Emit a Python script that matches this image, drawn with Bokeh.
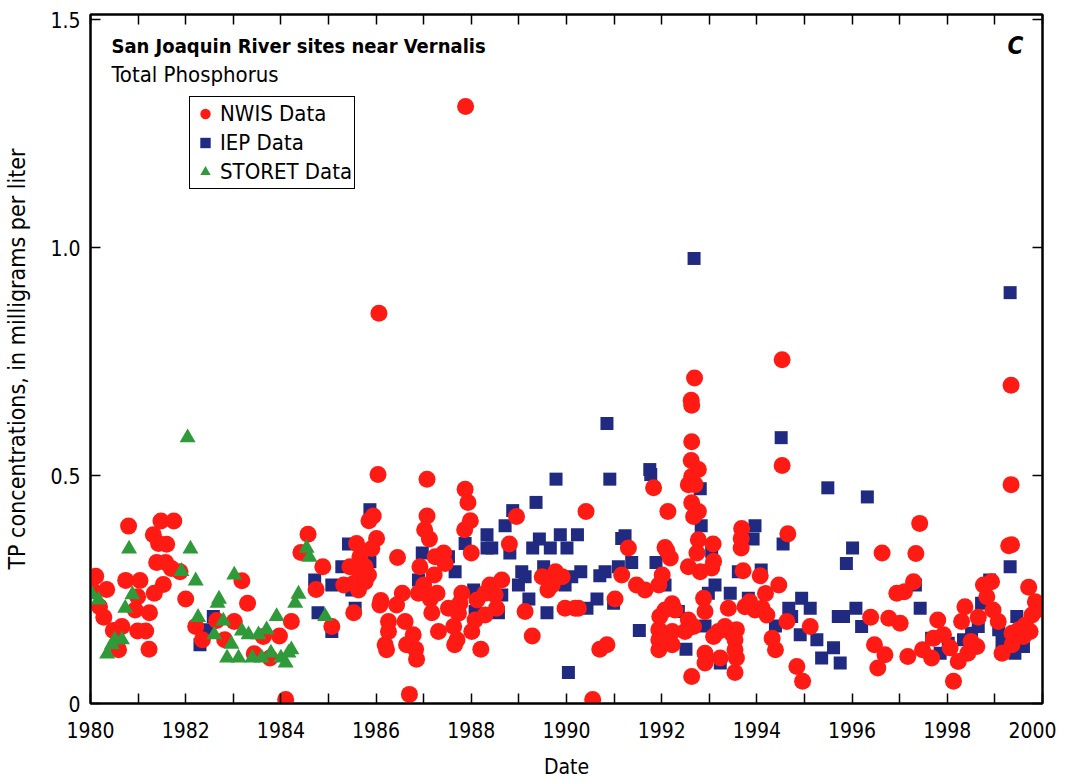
from bokeh.plotting import figure
from bokeh.models import FixedTicker, LinearAxis, Label, Range1d, NumeralTickFormatter, ColumnDataSource
from bokeh.embed import file_html
from bokeh.resources import INLINE

FONT = "DejaVu Sans Condensed, Liberation Sans, sans-serif"

# ---- NWIS data (red circles): decimal year, TP mg/L
nwis_year = [
    1980.80, 1980.11, 1980.03, 1980.34, 1980.19, 1980.28, 1980.48, 1980.66, 1980.59, 1980.74,
    1981.04, 1980.99, 1980.94, 1981.24, 1980.99, 1981.16, 1981.23, 1981.48, 1981.75, 1981.32,
    1981.43, 1981.60, 1981.39, 1981.58, 1981.70, 1981.88, 1981.53, 1981.34, 1982.00, 1982.21,
    1982.35, 1982.65, 1982.82, 1983.02, 1983.18, 1983.30, 1983.44, 1983.63, 1983.77, 1983.97,
    1984.22, 1984.10, 1984.57, 1984.42, 1984.88, 1984.74,
    1987.88, 1986.06, 1986.04, 1987.07, 1987.87, 1987.93, 1987.98, 1987.86, 1987.07, 1987.02,
    1987.12, 1988.95, 1990.41, 1988.80, 1988.00, 1985.94, 1985.85, 1986.01, 1985.91, 1985.59,
    1985.66, 1985.45, 1985.77, 1985.84, 1985.66, 1985.32, 1985.53, 1985.63, 1985.77, 1985.53,
    1985.07, 1986.45, 1986.10, 1986.08, 1986.55, 1986.43, 1986.26, 1986.26, 1986.61, 1986.78,
    1986.19, 1986.22, 1986.64, 1986.83, 1986.85, 1986.70, 1986.92, 1987.22, 1987.00, 1986.89,
    1987.28, 1987.14, 1987.17, 1987.31, 1987.24, 1987.42, 1987.45, 1987.52, 1987.63, 1987.70,
    1987.65, 1987.73, 1987.76, 1987.80, 1988.01, 1988.08, 1988.12, 1988.20, 1988.29, 1988.39,
    1988.50, 1988.64, 1988.29, 1988.53, 1989.13, 1989.28, 1989.49, 1989.77, 1989.91, 1989.61,
    1989.70, 1989.97, 1990.18, 1990.25, 1991.02, 1991.16, 1991.30, 1990.70, 1990.85, 1990.55,
    1994.53, 1992.69, 1992.62, 1992.63, 1992.63, 1994.53, 1992.62, 1992.77, 1992.63, 1992.56,
    1992.70, 1991.83, 1992.63, 1992.77, 1992.67, 1992.13, 1992.07, 1992.11, 1992.18, 1992.77,
    1993.08, 1992.74, 1993.68, 1993.67, 1993.67, 1994.65, 1993.09, 1993.05, 1992.56, 1992.81,
    1993.71, 1994.07, 1994.46, 1991.47, 1991.65, 1991.94, 1992.01, 1992.22, 1992.07, 1991.96,
    1992.28, 1991.94, 1991.94, 1991.94, 1992.22, 1992.22, 1992.56, 1992.67, 1992.49, 1992.88,
    1992.91, 1993.09, 1993.19, 1993.40, 1993.33, 1993.47, 1993.57, 1993.54, 1993.54, 1993.57,
    1993.54, 1992.91, 1992.91, 1993.23, 1992.63, 1993.75, 1993.85, 1993.96, 1994.11, 1994.18,
    1994.21, 1994.32, 1994.39, 1994.63, 1994.84, 1994.96, 1995.12,
    1999.34, 1999.34, 1999.29, 1999.35, 1997.42, 1996.63, 1997.34, 1997.29, 1996.94, 1997.10,
    1996.39, 1996.77, 1997.01, 1996.47, 1996.69, 1996.54, 1997.17, 1997.48, 1997.67, 1997.80,
    1997.71, 1997.92, 1998.06, 1998.23, 1998.13, 1998.37, 1998.30, 1998.50, 1998.43, 1998.62,
    1998.65, 1998.76, 1998.93, 1998.83, 1998.96, 1999.07, 1999.15, 1999.36, 1999.36, 1999.50,
    1999.64, 1999.74, 1999.60, 1999.71, 1999.85, 1999.88, 1999.78,
]
nwis_tp = [
    0.389, 0.279, 0.250, 0.250, 0.212, 0.189, 0.160, 0.169, 0.118, 0.270,
    0.270, 0.234, 0.205, 0.199, 0.159, 0.159, 0.119, 0.400, 0.400, 0.370,
    0.351, 0.349, 0.309, 0.309, 0.296, 0.289, 0.261, 0.242, 0.229, 0.169,
    0.140, 0.182, 0.140, 0.180, 0.269, 0.220, 0.109, 0.147, 0.100, 0.148,
    0.180, 0.009, 0.371, 0.331, 0.300, 0.250,
    1.309, 0.856, 0.502, 0.492, 0.470, 0.441, 0.401, 0.381, 0.411, 0.381,
    0.361, 0.410, 0.421, 0.350, 0.330, 0.411, 0.401, 0.362, 0.340, 0.351,
    0.322, 0.300, 0.300, 0.282, 0.285, 0.260, 0.263, 0.249, 0.267, 0.199,
    0.169, 0.320, 0.226, 0.216, 0.242, 0.216, 0.180, 0.158, 0.180, 0.151,
    0.129, 0.118, 0.129, 0.119, 0.097, 0.020, 0.300, 0.282, 0.260, 0.242,
    0.242, 0.229, 0.199, 0.158, 0.322, 0.330, 0.307, 0.209, 0.169, 0.140,
    0.129, 0.198, 0.220, 0.242, 0.158, 0.183, 0.227, 0.119, 0.242, 0.260,
    0.238, 0.271, 0.194, 0.209, 0.202, 0.148, 0.278, 0.289, 0.278, 0.249,
    0.260, 0.209, 0.209, 0.209, 0.229, 0.282, 0.341, 0.119, 0.129, 0.009,
    0.754, 0.714, 0.665, 0.654, 0.574, 0.522, 0.533, 0.513, 0.498, 0.480,
    0.480, 0.473, 0.440, 0.421, 0.410, 0.421, 0.342, 0.335, 0.319, 0.359,
    0.350, 0.330, 0.384, 0.362, 0.341, 0.372, 0.312, 0.297, 0.300, 0.289,
    0.291, 0.280, 0.260, 0.260, 0.249, 0.260, 0.282, 0.219, 0.205, 0.191,
    0.205, 0.162, 0.140, 0.118, 0.158, 0.129, 0.183, 0.169, 0.158, 0.231,
    0.202, 0.147, 0.158, 0.209, 0.169, 0.154, 0.162, 0.140, 0.118, 0.100,
    0.068, 0.110, 0.089, 0.100, 0.059, 0.212, 0.223, 0.205, 0.209, 0.241,
    0.194, 0.143, 0.118, 0.180, 0.081, 0.049, 0.169,
    0.698, 0.480, 0.346, 0.348, 0.395, 0.330, 0.329, 0.267, 0.242, 0.245,
    0.189, 0.187, 0.176, 0.129, 0.107, 0.078, 0.103, 0.118, 0.100, 0.183,
    0.143, 0.151, 0.122, 0.092, 0.049, 0.212, 0.180, 0.136, 0.110, 0.125,
    0.189, 0.260, 0.267, 0.234, 0.205, 0.180, 0.110, 0.129, 0.154, 0.162,
    0.172, 0.158, 0.147, 0.255, 0.223, 0.205, 0.194,
]

# ---- IEP data (blue squares)
iep_year = [
    1982.58, 1982.44, 1982.30, 1984.71, 1984.78,
    1990.85, 1990.91, 1989.78, 1989.36, 1988.87, 1988.71, 1988.33, 1989.87, 1990.23, 1989.43,
    1989.29, 1989.66, 1990.01, 1988.33, 1988.43, 1987.87, 1988.81, 1985.87, 1985.42, 1985.28,
    1985.87, 1986.97, 1987.52, 1987.66, 1986.89, 1985.07, 1985.49, 1985.56, 1985.07, 1988.05,
    1988.08, 1988.57, 1988.64, 1989.06, 1989.13, 1988.99, 1989.21, 1989.52, 1989.97, 1990.11,
    1990.30, 1989.59, 1990.43, 1990.64, 1990.70, 1990.81, 1991.09, 1991.16, 1990.99, 1990.04,
    1992.68, 1994.51, 1991.75, 1991.77, 1995.49, 1992.81, 1992.83, 1993.96, 1993.92, 1994.55,
    1991.23, 1991.37, 1991.88, 1992.07, 1993.05, 1993.61, 1994.09, 1993.12, 1992.98, 1993.44,
    1993.82, 1991.53, 1992.91, 1992.51, 1993.23, 1994.39, 1994.67, 1994.94, 1995.12, 1994.73,
    1994.91, 1995.26, 1995.36, 1995.61, 1995.75, 1995.71, 1995.88, 1992.35,
    1999.32, 1996.32, 1996.01, 1999.32, 1997.33, 1997.43, 1996.08, 1995.82, 1996.20, 1997.67,
    1997.85, 1998.02, 1998.34, 1998.51, 1998.65, 1998.72, 1998.89, 1999.08, 1999.15, 1999.46,
    1999.42, 1999.60, 1999.22,
]
iep_tp = [
    0.191, 0.162, 0.129, 0.271, 0.199,
    0.614, 0.492, 0.492, 0.441, 0.423, 0.390, 0.370, 0.370, 0.370, 0.361,
    0.341, 0.341, 0.341, 0.341, 0.341, 0.351, 0.330, 0.425, 0.350, 0.300,
    0.311, 0.330, 0.322, 0.289, 0.271, 0.260, 0.249, 0.209, 0.158, 0.249,
    0.202, 0.199, 0.238, 0.289, 0.278, 0.260, 0.229, 0.300, 0.260, 0.278,
    0.289, 0.199, 0.209, 0.229, 0.280, 0.289, 0.300, 0.362, 0.220, 0.068,
    0.976, 0.583, 0.513, 0.502, 0.473, 0.471, 0.390, 0.390, 0.361, 0.350,
    0.368, 0.309, 0.309, 0.260, 0.334, 0.289, 0.293, 0.260, 0.242, 0.242,
    0.231, 0.160, 0.170, 0.119, 0.089, 0.170, 0.209, 0.231, 0.209, 0.191,
    0.151, 0.140, 0.100, 0.122, 0.089, 0.191, 0.307, 0.202,
    0.901, 0.453, 0.341, 0.300, 0.260, 0.209, 0.209, 0.191, 0.169, 0.143,
    0.110, 0.132, 0.140, 0.154, 0.169, 0.220, 0.271, 0.162, 0.136, 0.191,
    0.110, 0.125, 0.147,
]

# ---- STORET data (green triangles)
storet_year = [
    1982.04, 1980.81, 1982.10, 1982.21, 1981.91, 1980.03, 1980.17, 1980.88, 1980.73, 1980.51,
    1980.66, 1980.45, 1980.35, 1983.02, 1982.70, 1982.67, 1982.26, 1982.79, 1982.60, 1982.96,
    1983.18, 1983.32, 1983.53, 1983.70, 1983.91, 1982.87, 1983.11, 1983.40, 1983.60, 1983.79,
    1984.00, 1984.10, 1984.22, 1984.16, 1984.37, 1984.30, 1984.54, 1984.60, 1984.93,
]
storet_tp = [
    0.583, 0.339, 0.339, 0.269, 0.290, 0.239, 0.227, 0.239, 0.209, 0.140,
    0.140, 0.129, 0.109, 0.282, 0.229, 0.220, 0.189, 0.181, 0.151, 0.130,
    0.159, 0.151, 0.151, 0.162, 0.191, 0.100, 0.100, 0.100, 0.100, 0.111,
    0.100, 0.089, 0.118, 0.111, 0.240, 0.220, 0.341, 0.321, 0.191,
]

x_major = [1980, 1982, 1984, 1986, 1988, 1990, 1992, 1994, 1996, 1998, 2000]
x_minor = [1981, 1983, 1985, 1987, 1989, 1991, 1993, 1995, 1997, 1999]
y_ticks = [0, 0.5, 1.0, 1.5]

RED = "#ff1a14"
BLUE = "#1f2a80"
GREEN = "#2f9a3a"
INK = "black"

p = figure(frame_width=952, frame_height=689,
           x_range=Range1d(1980, 2000), y_range=Range1d(0, 1.511),
           output_backend="svg", toolbar_location=None,
           min_border_left=90, min_border_top=14, min_border_right=14, min_border_bottom=74)
p.grid.visible = False
p.outline_line_color = "black"
p.outline_line_width = 2
p.background_fill_color = "white"
p.border_fill_color = "white"

# bottom axis
xa = p.xaxis[0]
xa.ticker = FixedTicker(ticks=x_major, minor_ticks=x_minor)
xa.major_tick_in = 10
xa.major_tick_out = 0
xa.minor_tick_in = 10
xa.minor_tick_out = 0
xa.axis_line_width = 2
xa.major_tick_line_width = 1.5
xa.minor_tick_line_width = 1.5
xa.major_label_text_font = FONT
xa.major_label_text_font_size = "21px"
xa.major_label_text_color = INK
xa.major_label_standoff = 18
xa.axis_label = "Date"
xa.axis_label_text_font = FONT
xa.axis_label_text_font_size = "21px"
xa.axis_label_text_font_style = "normal"
xa.axis_label_text_color = INK
xa.axis_label_standoff = 14

# left axis
ya = p.yaxis[0]
ya.ticker = FixedTicker(ticks=y_ticks, minor_ticks=[])
ya.formatter = NumeralTickFormatter(format="0.0")
ya.major_label_overrides = {0: "0"}
ya.major_tick_in = 10
ya.major_tick_out = 0
ya.minor_tick_in = 0
ya.minor_tick_out = 0
ya.axis_line_width = 2
ya.major_tick_line_width = 1.5
ya.major_label_text_font = FONT
ya.major_label_text_font_size = "21px"
ya.major_label_text_color = INK
ya.major_label_standoff = 10
ya.axis_label = "TP concentrations, in milligrams per liter"
ya.axis_label_text_font = FONT
ya.axis_label_text_font_size = "23px"
ya.axis_label_text_font_style = "normal"
ya.axis_label_text_color = INK
ya.axis_label_standoff = 17

# right and top axes (ticks only, labels not drawn)
ra = LinearAxis(ticker=FixedTicker(ticks=y_ticks, minor_ticks=[]),
                major_tick_in=10, major_tick_out=0, minor_tick_in=0, minor_tick_out=0,
                major_label_text_font_size="1px", major_label_text_color=None,
                major_label_standoff=0,
                axis_line_width=2, major_tick_line_width=1.5)
p.add_layout(ra, "right")
ta = LinearAxis(ticker=FixedTicker(ticks=x_major, minor_ticks=x_minor),
                major_tick_in=10, major_tick_out=0, minor_tick_in=10, minor_tick_out=0,
                major_label_text_font_size="1px", major_label_text_color=None,
                major_label_standoff=0,
                axis_line_width=2, major_tick_line_width=1.5, minor_tick_line_width=1.5)
p.add_layout(ta, "above")

src_iep = ColumnDataSource(dict(x=iep_year, y=iep_tp))
src_nwis = ColumnDataSource(dict(x=nwis_year, y=nwis_tp))
src_st = ColumnDataSource(dict(x=storet_year, y=storet_tp))

p.scatter("x", "y", source=src_iep, marker="square", size=13,
          fill_color=BLUE, line_color=None, legend_label="IEP Data")
p.scatter("x", "y", source=src_nwis, marker="circle", size=17,
          fill_color=RED, line_color=None, legend_label="NWIS Data")
p.scatter("x", "y", source=src_st, marker="triangle", size=16,
          fill_color=GREEN, line_color=None, legend_label="STORET Data")

lg = p.legend[0]
items = {it.label.value: it for it in lg.items}
lg.items = [items["NWIS Data"], items["IEP Data"], items["STORET Data"]]
lg.location = (99, 514)
lg.border_line_color = "black"
lg.border_line_width = 1.5
lg.border_line_alpha = 1
lg.background_fill_color = "white"
lg.background_fill_alpha = 1
lg.label_text_font = FONT
lg.label_text_font_size = "22px"
lg.label_text_color = INK
lg.padding = 2
lg.spacing = 0
lg.margin = 0
lg.glyph_width = 26
lg.glyph_height = 29
lg.label_height = 29
lg.label_standoff = 2

p.add_layout(Label(x=1980.44, y=1.443, text="San Joaquin River sites near Vernalis",
                   text_font=FONT, text_font_style="bold", text_font_size="20px",
                   text_color=INK, text_baseline="alphabetic"))
p.add_layout(Label(x=1980.44, y=1.380, text="Total Phosphorus",
                   text_font=FONT, text_font_size="22px", text_color=INK,
                   text_baseline="alphabetic"))
p.add_layout(Label(x=1999.60, y=1.443, text="C", text_align="right",
                   text_font=FONT, text_font_style="bold italic", text_font_size="24px",
                   text_color=INK, text_baseline="alphabetic"))

open("out.html", "w").write(file_html(p, INLINE))
